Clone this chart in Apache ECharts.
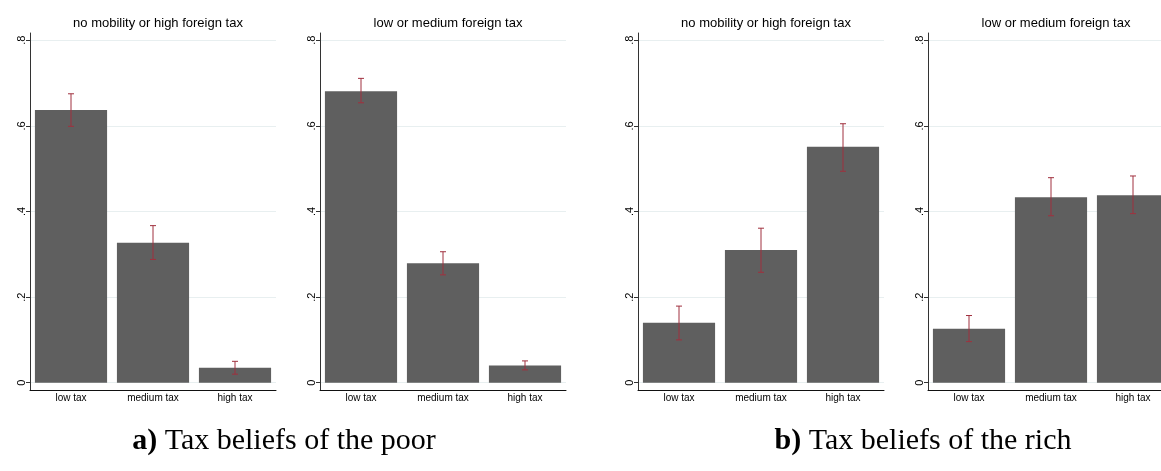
<!DOCTYPE html>
<html>
<head>
<meta charset="utf-8">
<script src="https://cdn.jsdelivr.net/npm/echarts@6/dist/echarts.min.js"></script>
<style>
  html, body { margin: 0; padding: 0; background: #fff; }
  #chart { width: 1161px; height: 471px; }
</style>
</head>
<body>
<div id="chart"></div>
<script>
// categories and tick labels
var categories = ['low tax', 'medium tax', 'high tax'];
var panelTitles = ['no mobility or high foreign tax', 'low or medium foreign tax',
                   'no mobility or high foreign tax', 'low or medium foreign tax'];
var yTicks = [0, 0.2, 0.4, 0.6, 0.8];
var yTickLabels = ['0', '.2', '.4', '.6', '.8'];

// a) poor
var poorNoMobility   = [0.637, 0.327, 0.035];
var poorNoMobilityLo = [0.599, 0.288, 0.020];
var poorNoMobilityHi = [0.675, 0.367, 0.050];
var poorLowMedium    = [0.681, 0.279, 0.040];
var poorLowMediumLo  = [0.654, 0.252, 0.030];
var poorLowMediumHi  = [0.711, 0.306, 0.051];

// b) rich
var richNoMobility   = [0.140, 0.310, 0.551];
var richNoMobilityLo = [0.100, 0.258, 0.494];
var richNoMobilityHi = [0.179, 0.361, 0.605];
var richLowMedium    = [0.126, 0.433, 0.438];
var richLowMediumLo  = [0.096, 0.390, 0.395];
var richLowMediumHi  = [0.157, 0.479, 0.483];

var captions = [['a)', 'Tax beliefs of the poor'], ['b)', 'Tax beliefs of the rich']];

var panels = [
  {mean: poorNoMobility, lo: poorNoMobilityLo, hi: poorNoMobilityHi},
  {mean: poorLowMedium,  lo: poorLowMediumLo,  hi: poorLowMediumHi},
  {mean: richNoMobility, lo: richNoMobilityLo, hi: richNoMobilityHi},
  {mean: richLowMedium,  lo: richLowMediumLo,  hi: richLowMediumHi}
];

var gridLefts = [30, 320, 638, 928];
var plotW = 246;

var chart = echarts.init(document.getElementById('chart'));

var grids = [], xAxes = [], yAxes = [], series = [], titles = [];
panels.forEach(function (p, i) {
  grids.push({left: gridLefts[i], top: 33, width: plotW, height: 357,
              containLabel: false, outerBoundsMode: 'none'});
  xAxes.push({
    type: 'category', gridIndex: i, data: categories, boundaryGap: true,
    axisLine: {onZero: false, lineStyle: {color: '#111', width: 1}},
    axisTick: {show: false},
    axisLabel: {color: '#000', fontSize: 10, margin: 3, fontFamily: 'Liberation Sans', interval: 0}
  });
  yAxes.push({
    type: 'value', gridIndex: i, min: -0.017, max: 0.817,
    axisLine: {show: true, lineStyle: {color: '#333', width: 1}},
    axisTick: {show: true, length: 4, customValues: yTicks, lineStyle: {color: '#333'}},
    axisLabel: {
      customValues: yTicks, rotate: 90, fontSize: 11, margin: 3, color: '#000',
      fontFamily: 'Liberation Sans',
      formatter: function (v) {
        var k = yTicks.indexOf(Math.round(v * 10) / 10);
        return k >= 0 ? yTickLabels[k] : '';
      }
    },
    splitLine: {show: true, lineStyle: {color: '#e8eff0', width: 1}}
  });
  series.push({
    type: 'bar', xAxisIndex: i, yAxisIndex: i, data: p.mean,
    barCategoryGap: '12%', itemStyle: {color: '#5f5f5f'}, z: 2
  });
  var eb = p.mean.map(function (m, k) { return [k, p.lo[k], p.hi[k]]; });
  series.push({
    type: 'custom', xAxisIndex: i, yAxisIndex: i, data: eb, z: 5,
    encode: {x: 0, y: [1, 2]},
    renderItem: function (params, api) {
      var lo = api.coord([api.value(0), api.value(1)]);
      var hi = api.coord([api.value(0), api.value(2)]);
      var cap = 3;
      var st = {stroke: '#a0303e', lineWidth: 1};
      return {type: 'group', children: [
        {type: 'line', shape: {x1: lo[0], y1: lo[1], x2: hi[0], y2: hi[1]}, style: st},
        {type: 'line', shape: {x1: lo[0] - cap, y1: lo[1], x2: lo[0] + cap, y2: lo[1]}, style: st},
        {type: 'line', shape: {x1: hi[0] - cap, y1: hi[1], x2: hi[0] + cap, y2: hi[1]}, style: st}
      ]};
    }
  });
  titles.push({
    text: panelTitles[i], left: gridLefts[i] + plotW / 2, top: 12, textAlign: 'center',
    textStyle: {fontSize: 13, fontWeight: 'normal', color: '#000', fontFamily: 'Liberation Sans'}
  });
});

var captionCenters = [279, 918];
captions.forEach(function (c, i) {
  titles.push({
    text: '{b|' + c[0] + '} ' + c[1], left: captionCenters[i], top: 421, textAlign: 'center',
    textStyle: {
      fontSize: 30, fontWeight: 'normal', color: '#000', fontFamily: 'Liberation Serif',
      rich: {b: {fontSize: 30, fontWeight: 'bold', fontFamily: 'Liberation Serif', color: '#000'}}
    }
  });
});

chart.setOption({
  backgroundColor: '#fff',
  animation: false,
  title: titles,
  grid: grids,
  xAxis: xAxes,
  yAxis: yAxes,
  series: series
});
</script>
</body>
</html>
